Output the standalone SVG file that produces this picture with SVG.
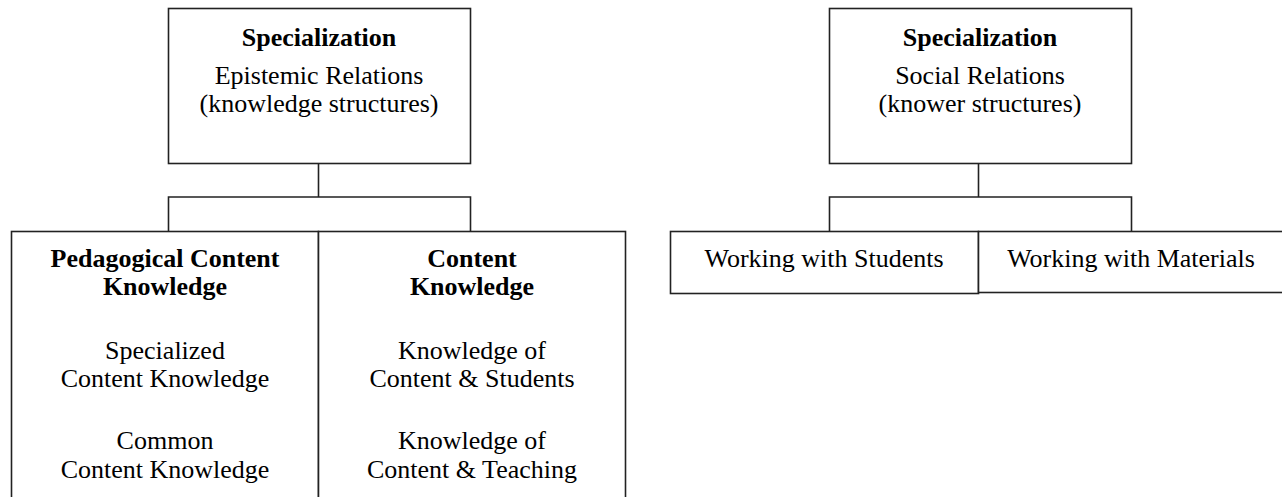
<svg xmlns="http://www.w3.org/2000/svg" width="1282" height="497" viewBox="0 0 1282 497">
<style>
.box{fill:#fff;stroke:#222;stroke-width:1.6}
.ln{fill:none;stroke:#222;stroke-width:1.6}
text{font-family:"Liberation Serif","Times New Roman",serif;font-size:26px;fill:#000;text-anchor:middle}
.b{font-weight:bold}
</style>
<rect width="1282" height="497" fill="#fff"/>
<g id="connectors">
<path class="ln" d="M318.5 163 V197 M168.5 231 V197 H470.5 V231"/>
<path class="ln" d="M978.5 163 V197 M829.5 231 V197 H1131.5 V231"/>
</g>
<g id="er">
<rect class="box" x="168.5" y="8.5" width="302" height="155"/>
<text class="b" x="319" y="46">Specialization</text>
<text x="319" y="84">Epistemic Relations</text>
<text x="319" y="112">(knowledge structures)</text>
</g>
<g id="pck">
<rect class="box" x="11.5" y="231.5" width="307" height="280"/>
<text class="b" x="165" y="267">Pedagogical Content</text>
<text class="b" x="165" y="295">Knowledge</text>
<text x="165" y="359">Specialized</text>
<text x="165" y="387">Content Knowledge</text>
<text x="165" y="449">Common</text>
<text x="165" y="478">Content Knowledge</text>
</g>
<g id="ck">
<rect class="box" x="318.5" y="231.5" width="307" height="280"/>
<text class="b" x="472" y="267">Content</text>
<text class="b" x="472" y="295">Knowledge</text>
<text x="472" y="359">Knowledge of</text>
<text x="472" y="387">Content &amp; Students</text>
<text x="472" y="449">Knowledge of</text>
<text x="472" y="478">Content &amp; Teaching</text>
</g>
<g id="sr">
<rect class="box" x="829.5" y="8.5" width="302" height="155"/>
<text class="b" x="980" y="46">Specialization</text>
<text x="980" y="84">Social Relations</text>
<text x="980" y="112">(knower structures)</text>
</g>
<g id="students">
<rect class="box" x="670.5" y="231.5" width="308" height="62"/>
<text x="824" y="267">Working with Students</text>
</g>
<g id="materials">
<rect class="box" x="978.5" y="231.5" width="320" height="61"/>
<text x="1131" y="267">Working with Materials</text>
</g>
</svg>
